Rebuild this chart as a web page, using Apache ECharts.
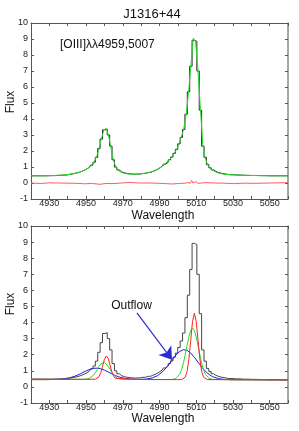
<!DOCTYPE html>
<html><head><meta charset="utf-8">
<script src="https://cdn.jsdelivr.net/npm/echarts@6/dist/echarts.min.js"></script>
<style>html,body{margin:0;padding:0;background:#fff}#c{width:299px;height:431px}</style>
</head><body><div id="c"></div>
<script>
// Observed spectrum (bin centres, flux)
const dataWave = [4920,4923,4927,4931,4935,4938,4941,4943,4945,4946.6,4947.9,4949.2,4950.5,4951.8,4953.1,4954.4,4955.7,4957.0,4958.3,4959.6,4960.9,4962.2,4963.5,4964.8,4966.1,4967.4,4968.7,4970.0,4971.5,4973,4975,4978,4981,4984,4986.3,4987.6,4988.9,4990.2,4991.5,4992.8,4994.1,4995.4,4996.7,4998.0,4999.3,5000.6,5001.9,5003.2,5004.5,5005.8,5007.1,5008.4,5009.7,5011.0,5012.3,5013.6,5014.9,5016.2,5017.5,5018.8,5020.1,5021.4,5023,5025,5028,5032,5036,5040,5045,5050,5055,5060];
const dataFlux = [0.45,0.45,0.45,0.46,0.48,0.50,0.54,0.58,0.63,0.68,0.74,0.80,0.88,0.98,1.12,1.30,1.60,2.15,2.75,3.32,3.37,3.00,2.30,1.45,1.00,0.82,0.70,0.64,0.60,0.57,0.55,0.56,0.60,0.66,0.72,0.78,0.85,0.95,1.05,1.18,1.30,1.45,1.62,1.85,2.10,2.45,2.85,3.35,4.30,5.70,7.30,8.92,8.85,7.00,4.55,2.30,1.60,1.15,0.95,0.82,0.72,0.65,0.60,0.55,0.52,0.50,0.48,0.47,0.46,0.45,0.45,0.45];
// Total model fit (top panel)
const modelFlux = [0.45,0.45,0.455,0.465,0.48,0.50,0.535,0.575,0.625,0.68,0.74,0.81,0.89,0.99,1.13,1.33,1.63,2.12,2.74,3.28,3.42,2.98,2.25,1.48,1.02,0.80,0.69,0.63,0.59,0.565,0.55,0.555,0.59,0.655,0.72,0.775,0.85,0.94,1.05,1.17,1.31,1.46,1.63,1.84,2.09,2.43,2.87,3.38,4.25,5.65,7.35,9.05,8.80,6.95,4.60,2.40,1.58,1.14,0.94,0.81,0.715,0.65,0.595,0.555,0.52,0.495,0.48,0.47,0.46,0.455,0.45,0.45];
// Residuals (top panel)
const resWave = [4920,4925,4930,4935,4940,4945,4949,4953,4957.6,4961,4964.7,4969,4974,4979,4985,4990,4996.6,5001,5004,5005.5,5006.6,5007.5,5008.2,5009.9,5011,5014.8,5020,5025,5031,5036,5042,5050,5060];
const resFlux = [0.0,-0.03,0.01,0.0,-0.01,-0.02,-0.05,-0.03,-0.08,-0.03,-0.04,0.0,0.03,0.0,0.0,-0.02,-0.06,-0.03,-0.01,0.03,-0.02,0.16,0.0,0.08,-0.02,0.02,0.0,-0.01,-0.04,-0.01,-0.02,0.0,0.02];
// Broad (outflow) component + continuum
const blueWave = [4920,4930,4935,4938,4941,4944,4947,4950,4952,4954,4956,4958,4960,4962,4964,4966,4968,4971,4974,4977,4980,4983,4986,4989,4992,4995,4997,4999,5001,5003,5005,5007,5009,5011,5013,5015,5017,5019,5022,5025,5030,5040,5060];
const blueFlux = [0.48,0.477,0.487,0.51,0.565,0.667,0.82,0.993,1.091,1.153,1.166,1.125,1.042,0.932,0.814,0.706,0.619,0.532,0.488,0.471,0.471,0.492,0.555,0.701,0.975,1.381,1.692,1.985,2.202,2.31,2.274,2.106,1.841,1.533,1.231,0.97,0.771,0.632,0.517,0.469,0.446,0.443,0.43];
// Narrow component 1 + continuum
const greenWave = [4920,4935,4948,4950,4952,4954,4955,4956,4957,4958,4959,4960,4961,4962,4963,4964,4965,4967,4969,4972,4985,4997,4999,5001,5002,5003,5004,5005,5006,5007,5008,5009,5010,5011,5012,5013,5014,5015,5017,5019,5030,5045,5060];
const greenFlux = [0.48,0.474,0.472,0.486,0.545,0.724,0.875,1.06,1.255,1.421,1.523,1.532,1.443,1.287,1.094,0.905,0.745,0.552,0.483,0.463,0.458,0.462,0.528,0.787,1.063,1.465,1.985,2.567,3.113,3.506,3.65,3.506,3.113,2.567,1.985,1.465,1.063,0.787,0.528,0.462,0.446,0.44,0.435];
// Narrow component 2 + continuum
const redWave = [4920,4935,4950,4955,4956,4957,4958,4959,4960,4961,4962,4963,4964,4965,4966,4967,4980,5000,5002,5003,5004,5005,5006,5007,5008,5009,5010,5011,5012,5013,5014,5015,5016,5030,5045,5060];
const redFlux = [0.48,0.474,0.469,0.478,0.515,0.627,0.88,1.285,1.712,1.925,1.779,1.375,0.95,0.665,0.529,0.482,0.46,0.452,0.457,0.486,0.604,0.954,1.715,2.891,4.071,4.58,4.071,2.891,1.715,0.954,0.604,0.486,0.457,0.446,0.44,0.435];
// Annotation arrow (data coordinates)
const arrowStart = [4977.7, 4.6];
const arrowEnd = [4996.8, 1.69];

const zip = (a, b) => a.map((x, i) => [x, b[i]]);
const FONT = '"Liberation Sans", Arial, sans-serif';
const AX = '#555';
const chart = echarts.init(document.getElementById('c'), null, {renderer: 'canvas'});

function xAxes(gi) {
  return [
    {type:'value', gridIndex:gi, min:4920, max:5060, interval:10, position:'bottom',
     axisLine:{onZero:false, lineStyle:{color:AX, width:1}},
     axisTick:{inside:true, length:3, lineStyle:{color:AX}},
     axisLabel:{fontSize:9, color:'#222', margin:0, fontFamily:FONT,
       formatter: v => ((Math.round(v) - 4930) % 20 === 0 ? String(Math.round(v)) : '')},
     splitLine:{show:false}},
    {type:'value', gridIndex:gi, min:4920, max:5060, interval:10, position:'top',
     axisLine:{onZero:false, lineStyle:{color:AX, width:1}},
     axisTick:{inside:true, length:3, lineStyle:{color:AX}},
     axisLabel:{show:false}, splitLine:{show:false}}
  ];
}
function yAxes(gi) {
  return [
    {type:'value', gridIndex:gi, min:-1, max:10, interval:1, position:'left',
     axisLine:{show:true, onZero:false, lineStyle:{color:AX, width:1}},
     axisTick:{show:true, inside:true, length:3, lineStyle:{color:AX}},
     axisLabel:{fontSize:9, color:'#222', margin:3, fontFamily:FONT},
     splitLine:{show:false}},
    {type:'value', gridIndex:gi, min:-1, max:10, interval:1, position:'right',
     axisLine:{show:true, onZero:false, lineStyle:{color:'#888', width:1.5}},
     axisTick:{show:true, inside:true, length:3, lineStyle:{color:AX}},
     axisLabel:{show:false}, splitLine:{show:false}}
  ];
}
const line = (xi, data, color, width, extra) => Object.assign({
  type:'line', xAxisIndex:xi, yAxisIndex:xi, data, symbol:'none', silent:true,
  lineStyle:{color, width}, animation:false
}, extra || {});

chart.setOption({
  animation:false,
  grid:[{left:31, top:23, width:257, height:176},
        {left:31, top:226, width:257, height:177}],
  xAxis:[...xAxes(0), ...xAxes(1)],
  yAxis:[...yAxes(0), ...yAxes(1)],
  series:[
    line(0, zip(dataWave, dataFlux), '#222', 1, {step:'middle'}),
    line(0, zip(dataWave, modelFlux), '#22dd22', 1),
    line(0, zip(resWave, resFlux), '#ff5a5a', 1),
    line(2, zip(dataWave, dataFlux), '#444', 1, {step:'middle'}),
    line(2, zip(blueWave, blueFlux), '#1c1cdc', 1, {
      markLine:{silent:true, symbol:['none','arrow'], symbolSize:12,
        lineStyle:{color:'#2a2ad8', width:1.2, type:'solid'}, label:{show:false},
        emphasis:{disabled:true},
        data:[[{coord:arrowStart}, {coord:arrowEnd}]]}}),
    line(2, zip(greenWave, greenFlux), '#22dd22', 1),
    line(2, zip(redWave, redFlux), '#ff2020', 1)
  ],
  graphic:[
    {type:'text', x:152, y:14, style:{text:'J1316+44', font:'13px '+FONT, fill:'#111', textAlign:'center', textVerticalAlign:'middle'}},
    {type:'text', x:60, y:44.5, style:{text:'[OIII]λλ4959,5007', font:'12px '+FONT, fill:'#111', textAlign:'left', textVerticalAlign:'middle'}},
    {type:'text', x:163, y:216, style:{text:'Wavelength', font:'12px '+FONT, fill:'#111', textAlign:'center', textVerticalAlign:'middle'}},
    {type:'text', x:163, y:419, style:{text:'Wavelength', font:'12px '+FONT, fill:'#111', textAlign:'center', textVerticalAlign:'middle'}},
    {type:'text', x:11, y:102, rotation:Math.PI/2, style:{text:'Flux', font:'12px '+FONT, fill:'#111', textAlign:'center', textVerticalAlign:'middle'}},
    {type:'text', x:11, y:304, rotation:Math.PI/2, style:{text:'Flux', font:'12px '+FONT, fill:'#111', textAlign:'center', textVerticalAlign:'middle'}},
    {type:'text', x:131.5, y:305.5, style:{text:'Outflow', font:'12px '+FONT, fill:'#111', textAlign:'center', textVerticalAlign:'middle'}}
  ]
});
</script></body></html>
